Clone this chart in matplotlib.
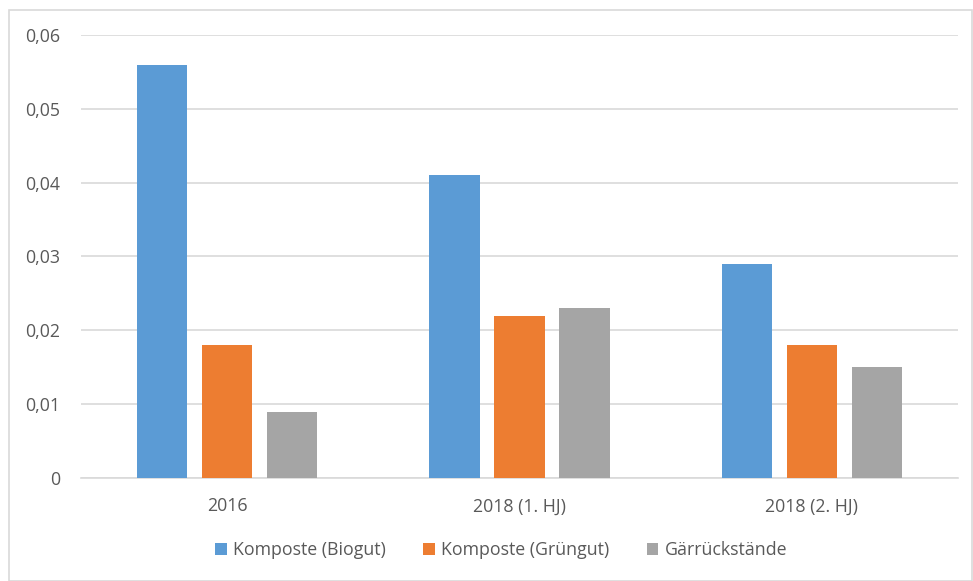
import matplotlib
matplotlib.use("Agg")
import matplotlib.pyplot as plt
from matplotlib.patches import Rectangle
import numpy as np

categories = ["2016", "2018 (1. HJ)", "2018 (2. HJ)"]
series_names = ["Komposte (Biogut)", "Komposte (Grüngut)", "Gärrückstände"]
biogut = [0.056, 0.041, 0.029]
gruengut = [0.018, 0.022, 0.018]
gaerreste = [0.009, 0.023, 0.015]
yticks = [0, 0.01, 0.02, 0.03, 0.04, 0.05, 0.06]
ytick_labels = ["0", "0,01", "0,02", "0,03", "0,04", "0,05", "0,06"]

colors = ["#5B9BD5", "#ED7D31", "#A5A5A5"]
text_col = "#595959"
plt.rcParams["font.family"] = ["Open Sans", "DejaVu Sans"]

fig = plt.figure(figsize=(9.73, 5.81), dpi=100)
ax = fig.add_axes([0.0833, 0.1773, 0.9013, 0.7625])

# chart border
fig.patches.append(Rectangle((9 / 973, 0), 963 / 973, 571 / 581, transform=fig.transFigure,
                             fill=False, edgecolor="#D9D9D9", linewidth=1.2))

x = np.arange(len(categories))
w = 0.172
step = 0.222
for i, (vals, name) in enumerate(zip([biogut, gruengut, gaerreste], series_names)):
    ax.bar(x + (i - 1) * step, vals, width=w, color=colors[i], label=name, zorder=3)

ax.set_xlim(-0.5, 2.5)
ax.set_ylim(0, 0.06)
ax.set_yticks(yticks)
ax.set_yticklabels(ytick_labels)
ax.set_xticks(x)
ax.set_xticklabels(categories)
ax.grid(axis="y", color="#D9D9D9", linewidth=1.2, zorder=0)
for s in ["top", "right", "left"]:
    ax.spines[s].set_visible(False)
ax.spines["bottom"].set_color("#D9D9D9")
ax.spines["bottom"].set_linewidth(1.2)
ax.tick_params(length=0, colors=text_col, labelsize=12.8)
ax.tick_params(axis="y", pad=15)
ax.tick_params(axis="x", pad=14)

ax.legend(loc="center", bbox_to_anchor=(0.479, -0.163), ncol=3, frameon=False,
          fontsize=12.8, labelcolor=text_col, handlelength=0.65, handleheight=0.65,
          handletextpad=0.35, columnspacing=2.1)

fig.savefig("out.png", dpi=100)
